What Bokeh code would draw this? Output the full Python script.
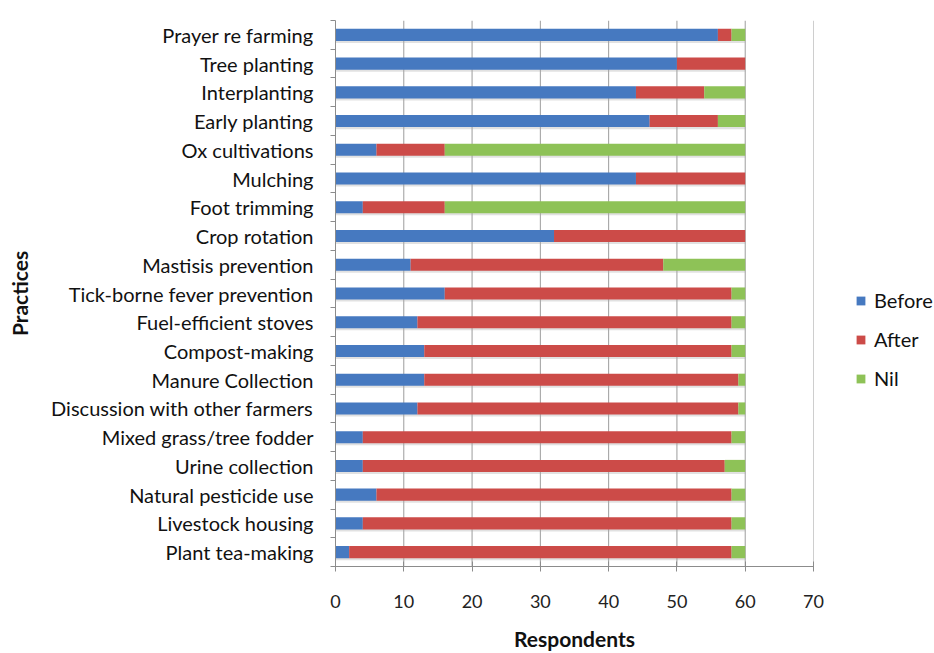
from bokeh.plotting import figure
from bokeh.models import (Range1d, Legend, LegendItem, Span, LinearAxis, FixedTicker)
from bokeh.transform import dodge
from bokeh.embed import file_html
from bokeh.resources import INLINE

practices = [
    "Prayer re farming", "Tree planting", "Interplanting", "Early planting",
    "Ox cultivations", "Mulching", "Foot trimming", "Crop rotation",
    "Mastisis prevention", "Tick-borne fever prevention", "Fuel-efficient stoves",
    "Compost-making", "Manure Collection", "Discussion with other farmers",
    "Mixed grass/tree fodder", "Urine collection", "Natural pesticide use",
    "Livestock housing", "Plant tea-making",
]
before = [56, 50, 44, 46, 6, 44, 4, 32, 11, 16, 12, 13, 13, 12, 4, 4, 6, 4, 2]
after = [2, 10, 10, 10, 10, 16, 12, 28, 37, 42, 46, 45, 46, 47, 54, 53, 52, 54, 56]
nil = [2, 0, 6, 4, 44, 0, 44, 0, 12, 2, 2, 2, 1, 1, 2, 3, 2, 2, 2]
series = ["Before", "After", "Nil"]
colors = ["#4679C0", "#CC4B48", "#8EC257"]
x_ticks = [0, 10, 20, 30, 40, 50, 60, 70]

FONT = "Lato"

n = len(practices)
slot = [n - 1 - i for i in range(n)]          # first practice at the top
totals = [b + a + c for b, a, c in zip(before, after, nil)]
data = {"slot": slot, "practice": practices, "Before": before, "After": after,
        "Nil": nil, "total": totals}

W, H = 934, 653
FL, FT, FW, FH = 335, 20, 478, 546
p = figure(
    width=W, height=H, output_backend="svg", toolbar_location=None,
    y_range=Range1d(-0.5, n - 0.5),
    x_range=Range1d(x_ticks[0], x_ticks[-1]),
    frame_width=FW, frame_height=FH,
    min_border_left=FL, min_border_top=FT, min_border_right=W - FL - FW,
    min_border_bottom=H - FT - FH,
)

# vertical grid lines
for v in x_ticks[1:]:
    p.add_layout(Span(location=v, dimension="height", line_color="#9d9d9d",
                      line_width=1, level="underlay"))

# soft shadow beneath bars
p.hbar(y=dodge("slot", -0.1, range=p.y_range), left=0, right="total",
       height=0.36, source=data, color="#a8a8a8", alpha=0.35, line_color=None)

renderers = p.hbar_stack(series, y="slot", height=0.42, color=colors,
                         source=data, line_color=None)

p.outline_line_color = None
p.background_fill_color = "white"
p.border_fill_color = "white"
p.grid.grid_line_color = None

# x axis
p.xaxis.ticker = x_ticks
p.xaxis.axis_line_color = "#8c8c8c"
p.xaxis.major_tick_line_color = "#8c8c8c"
p.xaxis.major_tick_in = 5
p.xaxis.major_tick_out = 5
p.xaxis.minor_tick_line_color = None
p.xaxis.major_label_text_font = FONT
p.xaxis.major_label_text_font_size = "18px"
p.xaxis.major_label_text_color = "#222222"
p.xaxis.major_label_standoff = 23
p.xaxis.axis_label = "Respondents"
p.xaxis.axis_label_text_font = FONT
p.xaxis.axis_label_text_font_style = "bold"
p.xaxis.axis_label_text_font_size = "21px"
p.xaxis.axis_label_text_color = "#111111"
p.xaxis.axis_label_standoff = 15

# category label axis
cat_axis = p.yaxis[0]
cat_axis.ticker = FixedTicker(ticks=slot)
cat_axis.major_label_overrides = {s: name for s, name in zip(slot, practices)}
cat_axis.axis_line_color = None
cat_axis.major_tick_line_color = None
cat_axis.minor_tick_line_color = None
cat_axis.major_tick_out = 0
cat_axis.major_tick_in = 0
cat_axis.major_label_text_font = FONT
cat_axis.major_label_text_font_size = "20px"
cat_axis.major_label_text_color = "#111111"
cat_axis.major_label_standoff = 17
cat_axis.axis_label = "Practices"
cat_axis.axis_label_text_font = FONT
cat_axis.axis_label_text_font_style = "bold"
cat_axis.axis_label_text_font_size = "21px"
cat_axis.axis_label_text_color = "#111111"
cat_axis.axis_label_standoff = 16

# boundary tick axis next to the frame
slot_axis = LinearAxis(ticker=FixedTicker(ticks=[k - 0.5 for k in range(n + 1)]))
slot_axis.axis_line_color = "#8c8c8c"
slot_axis.major_tick_line_color = "#8c8c8c"
slot_axis.major_tick_out = 5
slot_axis.major_tick_in = 0
slot_axis.minor_tick_line_color = None
slot_axis.major_label_text_font_size = "0px"
slot_axis.major_label_text_alpha = 0
slot_axis.major_label_standoff = 0
p.add_layout(slot_axis, "left")
p.left = [slot_axis, cat_axis]

legend = Legend(
    items=[LegendItem(label=s, renderers=[r]) for s, r in zip(series, renderers)],
    location=(42, 176),
    label_text_font=FONT, label_text_font_size="20px", label_text_color="#111111",
    glyph_width=11, glyph_height=11, label_height=20, spacing=15,
    padding=0, margin=0, border_line_color=None, background_fill_alpha=0,
    label_standoff=8,
)
p.add_layout(legend, "right")

open("out.html", "w").write(file_html(p, INLINE))
